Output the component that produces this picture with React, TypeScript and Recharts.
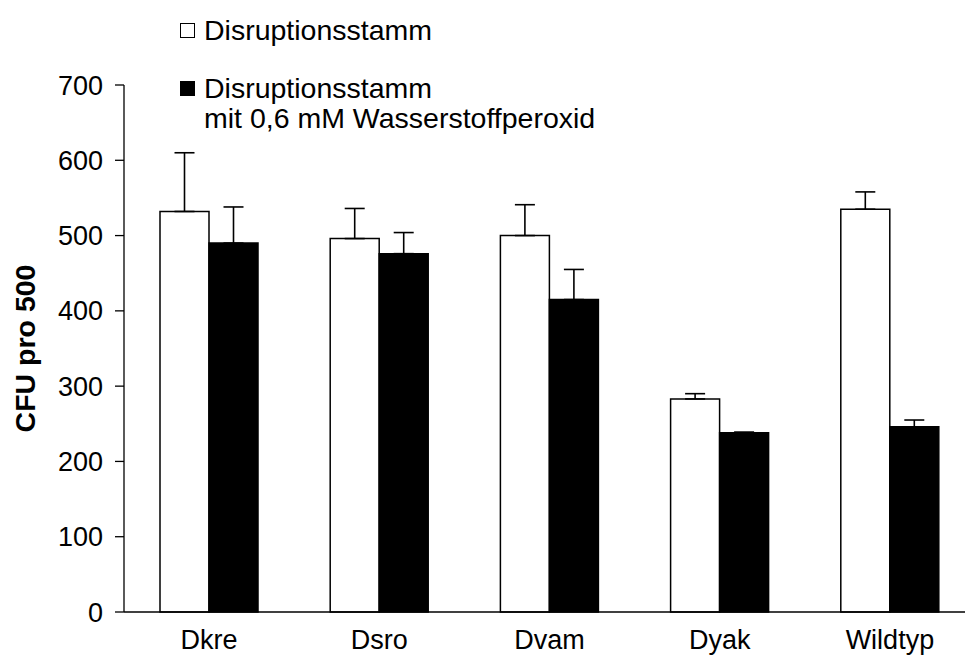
import React from 'react';
import { BarChart, Bar, XAxis, YAxis, ErrorBar, Legend } from 'recharts';

// Strains on the x axis
const strains = ['Dkre', 'Dsro', 'Dvam', 'Dyak', 'Wildtyp'];
// Disruption strain without peroxide (mean CFU and upper error)
const disruption = [532, 496, 500, 283, 535];
const disruptionErr = [78, 40, 41, 7, 23];
// Disruption strain with 0.6 mM hydrogen peroxide
const peroxide = [490, 476, 415, 238, 246];
const peroxideErr = [48, 28, 40, 1, 9];
// Y axis ticks
const yTicks = [0, 100, 200, 300, 400, 500, 600, 700];

const seriesNames = ['Disruptionsstamm', 'Disruptionsstamm', 'mit 0,6 mM Wasserstoffperoxid'];

const data = strains.map((name, i) => ({
  name,
  a: disruption[i],
  aErr: [0, disruptionErr[i]],
  b: peroxide[i],
  bErr: [0, peroxideErr[i]],
}));

const FONT = '"Liberation Sans", Arial, Helvetica, sans-serif';

const LegendBox = () => (
  <svg width={965} height={140} style={{ display: 'block' }}>
    <rect x={180.5} y={23.5} width={14} height={14} fill="#fff" stroke="#000" strokeWidth={1} />
    <text x={204} y={40} fontFamily={FONT} fontSize={28.5} fill="#000">{seriesNames[0]}</text>
    <rect x={180.5} y={81.5} width={14} height={14} fill="#000" stroke="#000" strokeWidth={1} />
    <text x={204} y={98} fontFamily={FONT} fontSize={28.5} fill="#000">{seriesNames[1]}</text>
    <text x={204} y={128} fontFamily={FONT} fontSize={28.5} fill="#000">{seriesNames[2]}</text>
  </svg>
);

const YLabel = (props: any) => {
  const vb = props.viewBox || {};
  const cy = (vb.y ?? 85) + (vb.height ?? 526) / 2;
  const x = 35;
  return (
    <text
      x={x}
      y={cy}
      transform={`rotate(-90 ${x} ${cy})`}
      textAnchor="middle"
      fontFamily={FONT}
      fontSize={28.5}
      fontWeight="bold"
      fill="#000"
    >
      CFU pro 500
    </text>
  );
};

export default function App() {
  return (
    <div style={{ position: 'absolute', left: 0, top: 0, width: 965, height: 668, overflow: 'hidden', background: '#fff' }}>
      <BarChart
        width={965}
        height={668}
        data={data}
        margin={{ top: 85, right: -10, bottom: 0, left: 0 }}
        barGap={0}
        barSize={49}
      >
        <XAxis
          dataKey="name"
          height={56}
          tickLine={false}
          tickSize={0}
          tickMargin={18}
          axisLine={{ stroke: '#000', strokeWidth: 1.3 }}
          tick={{ fill: '#000', fontSize: 27, fontFamily: FONT }}
        />
        <YAxis
          width={124}
          domain={[0, 700]}
          ticks={yTicks}
          interval={0}
          tickSize={9}
          tickMargin={12}
          axisLine={{ stroke: '#000', strokeWidth: 1.3 }}
          tickLine={{ stroke: '#000', strokeWidth: 1.3 }}
          tick={{ fill: '#000', fontSize: 27, fontFamily: FONT }}
          label={<YLabel />}
        />
        <Legend
          layout="horizontal"
          verticalAlign="middle"
          align="center"
          wrapperStyle={{ left: 0, top: 0, width: 965, height: 140 }}
          content={() => <LegendBox />}
        />
        <Bar dataKey="a" fill="#fff" stroke="#000" strokeWidth={1.5} isAnimationActive={false}>
          <ErrorBar dataKey="aErr" direction="y" width={10} stroke="#000" strokeWidth={1.6} isAnimationActive={false} />
        </Bar>
        <Bar dataKey="b" fill="#000" stroke="#000" strokeWidth={1.5} isAnimationActive={false}>
          <ErrorBar dataKey="bErr" direction="y" width={10} stroke="#000" strokeWidth={1.6} isAnimationActive={false} />
        </Bar>
      </BarChart>
    </div>
  );
}
